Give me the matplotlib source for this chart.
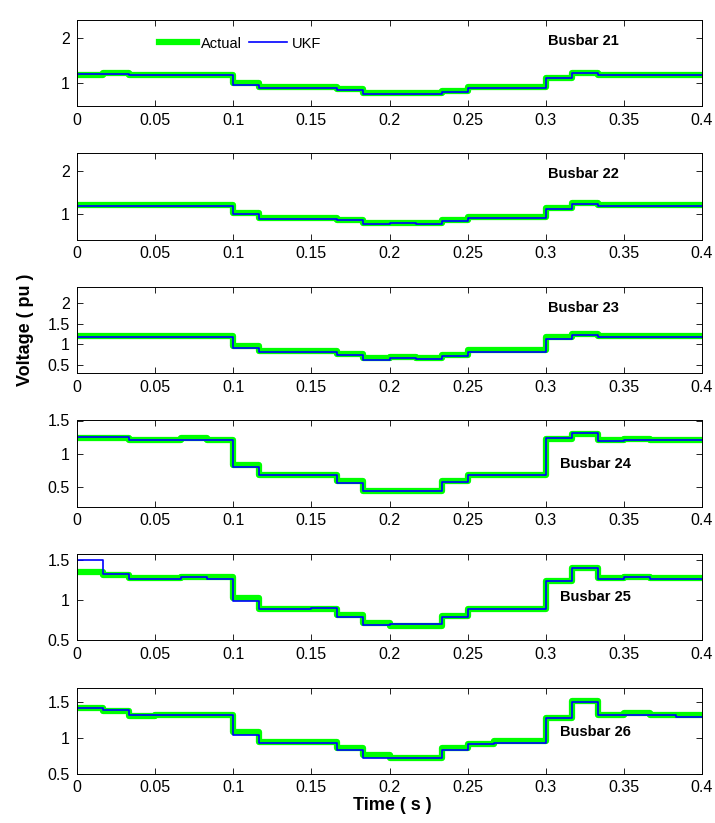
import numpy as np
import matplotlib
matplotlib.use("Agg")
import matplotlib.pyplot as plt

plt.rcParams['font.family'] = ['Liberation Sans Narrow', 'Liberation Sans', 'DejaVu Sans']

# step boundaries: one value every 1/60 s from 0 to 0.4 s
t = np.arange(25) / 60.0

busbars = ['Busbar 21', 'Busbar 22', 'Busbar 23', 'Busbar 24', 'Busbar 25', 'Busbar 26']

actual_21 = [1.18, 1.22, 1.18, 1.18, 1.18, 1.18, 1.00, 0.92, 0.92, 0.92, 0.88, 0.78,
             0.78, 0.78, 0.83, 0.93, 0.93, 0.93, 1.12, 1.23, 1.19, 1.19, 1.19, 1.19]
ukf_21 = [1.20, 1.20, 1.18, 1.18, 1.18, 1.18, 0.97, 0.90, 0.90, 0.90, 0.85, 0.77,
          0.77, 0.77, 0.82, 0.90, 0.90, 0.90, 1.11, 1.23, 1.18, 1.18, 1.18, 1.18]

actual_22 = [1.20, 1.20, 1.20, 1.20, 1.20, 1.20, 1.02, 0.90, 0.90, 0.90, 0.86, 0.78,
             0.78, 0.78, 0.85, 0.92, 0.92, 0.92, 1.14, 1.24, 1.20, 1.20, 1.20, 1.20]
ukf_22 = [1.18, 1.18, 1.18, 1.18, 1.18, 1.18, 0.99, 0.88, 0.88, 0.88, 0.86, 0.75,
          0.78, 0.75, 0.83, 0.89, 0.89, 0.89, 1.12, 1.22, 1.18, 1.18, 1.18, 1.18]

actual_23 = [1.20, 1.20, 1.20, 1.20, 1.20, 1.20, 0.95, 0.84, 0.84, 0.84, 0.76, 0.66,
             0.69, 0.66, 0.74, 0.85, 0.85, 0.85, 1.19, 1.26, 1.20, 1.20, 1.20, 1.20]
ukf_23 = [1.19, 1.19, 1.19, 1.19, 1.19, 1.19, 0.90, 0.81, 0.81, 0.81, 0.74, 0.61,
          0.66, 0.63, 0.72, 0.81, 0.81, 0.81, 1.13, 1.24, 1.19, 1.19, 1.19, 1.19]

actual_24 = [1.23, 1.23, 1.20, 1.20, 1.23, 1.20, 0.82, 0.67, 0.67, 0.67, 0.58, 0.44,
             0.44, 0.44, 0.59, 0.68, 0.68, 0.68, 1.22, 1.30, 1.20, 1.22, 1.20, 1.20]
ukf_24 = [1.25, 1.25, 1.20, 1.20, 1.21, 1.21, 0.80, 0.67, 0.67, 0.67, 0.56, 0.43,
          0.43, 0.43, 0.57, 0.67, 0.67, 0.67, 1.24, 1.31, 1.19, 1.21, 1.20, 1.20]

actual_25 = [1.34, 1.31, 1.27, 1.27, 1.28, 1.28, 1.02, 0.88, 0.88, 0.89, 0.81, 0.71,
             0.68, 0.68, 0.80, 0.89, 0.89, 0.89, 1.23, 1.40, 1.27, 1.29, 1.27, 1.27]
ukf_25 = [1.50, 1.32, 1.26, 1.26, 1.28, 1.26, 0.99, 0.88, 0.88, 0.90, 0.79, 0.69,
          0.70, 0.70, 0.79, 0.89, 0.89, 0.89, 1.24, 1.40, 1.26, 1.28, 1.26, 1.26]

actual_26 = [1.42, 1.37, 1.30, 1.32, 1.32, 1.32, 1.08, 0.94, 0.94, 0.94, 0.85, 0.76,
             0.71, 0.71, 0.85, 0.91, 0.95, 0.95, 1.28, 1.51, 1.31, 1.34, 1.32, 1.32]
ukf_26 = [1.41, 1.38, 1.32, 1.31, 1.31, 1.31, 1.04, 0.92, 0.92, 0.92, 0.83, 0.72,
          0.72, 0.72, 0.83, 0.91, 0.92, 0.92, 1.27, 1.50, 1.31, 1.32, 1.31, 1.29]

actual = [actual_21, actual_22, actual_23, actual_24, actual_25, actual_26]
ukf = [ukf_21, ukf_22, ukf_23, ukf_24, ukf_25, ukf_26]

ylims = [(0.5, 2.4), (0.4, 2.4), (0.3, 2.4), (0.2, 1.5), (0.5, 1.57), (0.5, 1.7)]
yticks = [[1, 2], [1, 2], [0.5, 1, 1.5, 2], [0.5, 1, 1.5], [0.5, 1, 1.5], [0.5, 1, 1.5]]
ytick_labels = [['1', '2'], ['1', '2'], ['0.5', '1', '1.5', '2'],
                ['0.5', '1', '1.5'], ['0.5', '1', '1.5'], ['0.5', '1', '1.5']]
label_pos = [(0.81, 0.76), (0.81, 0.76), (0.81, 0.76), (0.83, 0.5), (0.83, 0.5), (0.83, 0.48)]

xticks = [0, 0.05, 0.1, 0.15, 0.2, 0.25, 0.3, 0.35, 0.4]
xtick_labels = ['0', '0.05', '0.1', '0.15', '0.2', '0.25', '0.3', '0.35', '0.4']

fig = plt.figure(figsize=(7.15, 8.23), dpi=100)
W, H = 715.0, 823.0

for i in range(6):
    top = 20 + 133.5 * i
    ax = fig.add_axes([77 / W, 1 - (top + 86) / H, 625 / W, 86 / H])
    ya = list(actual[i]) + [actual[i][-1]]
    yu = list(ukf[i]) + [ukf[i][-1]]
    ax.plot(t, ya, drawstyle='steps-post', color='#00ff00', lw=4.5, label='Actual')
    ax.plot(t, yu, drawstyle='steps-post', color='#0000ff', lw=1.2, label='UKF')
    ax.set_xlim(0, 0.4)
    ax.set_ylim(*ylims[i])
    ax.set_xticks(xticks)
    ax.set_xticklabels(xtick_labels)
    ax.set_yticks(yticks[i])
    ax.set_yticklabels(ytick_labels[i])
    ax.tick_params(direction='in', top=True, right=True, length=4, width=0.6,
                   labelsize=11.5, pad=5)
    for s in ax.spines.values():
        s.set_linewidth(0.7)
    ax.text(label_pos[i][0], label_pos[i][1], busbars[i], transform=ax.transAxes,
            ha='center', va='center', fontsize=10.5, fontweight='bold')
    if i == 0:
        ax.legend(loc='upper left', bbox_to_anchor=(0.11, 0.96), ncol=2, frameon=False,
                  fontsize=10.5, handlelength=2.6, columnspacing=0.5, handletextpad=0.3)

fig.text(25 / W, 1 - 330 / H, 'Voltage ( pu )', rotation=90, ha='center', va='center',
         fontsize=13, fontweight='bold', family=['Liberation Sans', 'DejaVu Sans'])
fig.text(392 / W, 1 - 806 / H, 'Time ( s )', ha='center', va='center',
         fontsize=13, fontweight='bold')

fig.savefig('out.png', dpi=100)
